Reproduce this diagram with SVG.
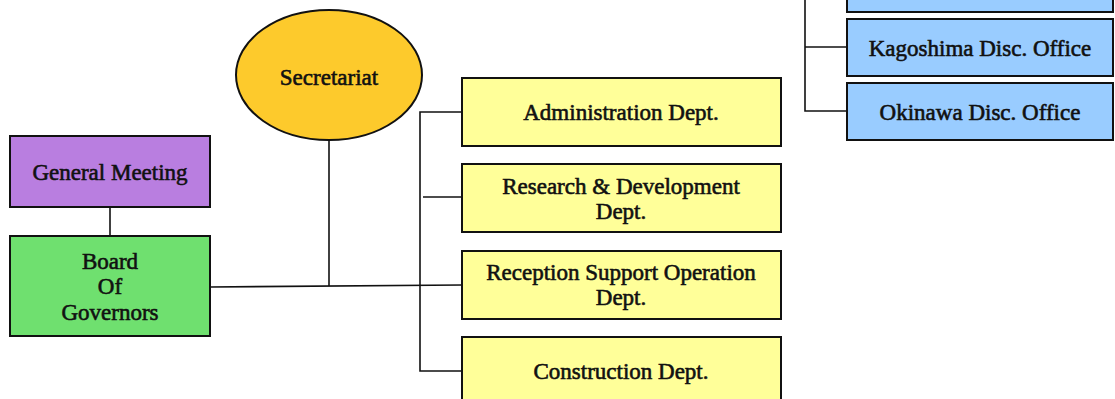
<svg xmlns="http://www.w3.org/2000/svg" width="1115" height="399" viewBox="0 0 1115 399">
<style>
.box{stroke:#111;stroke-width:2}
.t{font-family:"Liberation Serif","DejaVu Serif",serif;font-size:23px;fill:#111;text-anchor:middle;stroke:#111;stroke-width:0.6}
.c{stroke:#111;stroke-width:1.6;fill:none}
</style>
<rect width="1115" height="399" fill="#fff"/>
<g id="connectors">
<line class="c" x1="110" y1="207" x2="110" y2="236"/>
<line class="c" x1="210" y1="287" x2="462" y2="285"/>
<line class="c" x1="329" y1="140" x2="329" y2="286"/>
<polyline class="c" points="462,112 420,112 420,371 462,371"/>
<line class="c" x1="423" y1="197" x2="462" y2="197"/>
<polyline class="c" points="805,0 805,111 847,111"/>
<line class="c" x1="805" y1="47" x2="847" y2="47"/>
</g>
<g id="general-meeting">
<rect class="box" x="10" y="136" width="200" height="71" fill="#b97ee0"/>
<text class="t" x="110" y="180">General Meeting</text>
</g>
<g id="board">
<rect class="box" x="10" y="236" width="200" height="100" fill="#6fe06f"/>
<text class="t" x="110" y="269">Board</text>
<text class="t" x="110" y="294">Of</text>
<text class="t" x="110" y="320">Governors</text>
</g>
<g id="secretariat">
<ellipse class="box" cx="329" cy="75" rx="93" ry="65" fill="#fdca2c"/>
<text class="t" x="329" y="85">Secretariat</text>
</g>
<g id="admin">
<rect class="box" x="462" y="78" width="319" height="68" fill="#ffff99"/>
<text class="t" x="621" y="120">Administration Dept.</text>
</g>
<g id="rnd">
<rect class="box" x="462" y="164" width="319" height="68" fill="#ffff99"/>
<text class="t" x="621" y="194">Research &amp; Development</text>
<text class="t" x="621" y="219">Dept.</text>
</g>
<g id="reception">
<rect class="box" x="462" y="251" width="319" height="68" fill="#ffff99"/>
<text class="t" x="621" y="280">Reception Support Operation</text>
<text class="t" x="621" y="305">Dept.</text>
</g>
<g id="construction">
<rect class="box" x="462" y="337" width="319" height="80" fill="#ffff99"/>
<text class="t" x="621" y="379">Construction Dept.</text>
</g>
<g id="office-top">
<rect class="box" x="847" y="-50" width="266" height="62" fill="#99ccff"/>
</g>
<g id="kagoshima">
<rect class="box" x="847" y="19" width="266" height="57" fill="#99ccff"/>
<text class="t" x="980" y="56">Kagoshima Disc. Office</text>
</g>
<g id="okinawa">
<rect class="box" x="847" y="83" width="266" height="57" fill="#99ccff"/>
<text class="t" x="980" y="120">Okinawa Disc. Office</text>
</g>
</svg>
